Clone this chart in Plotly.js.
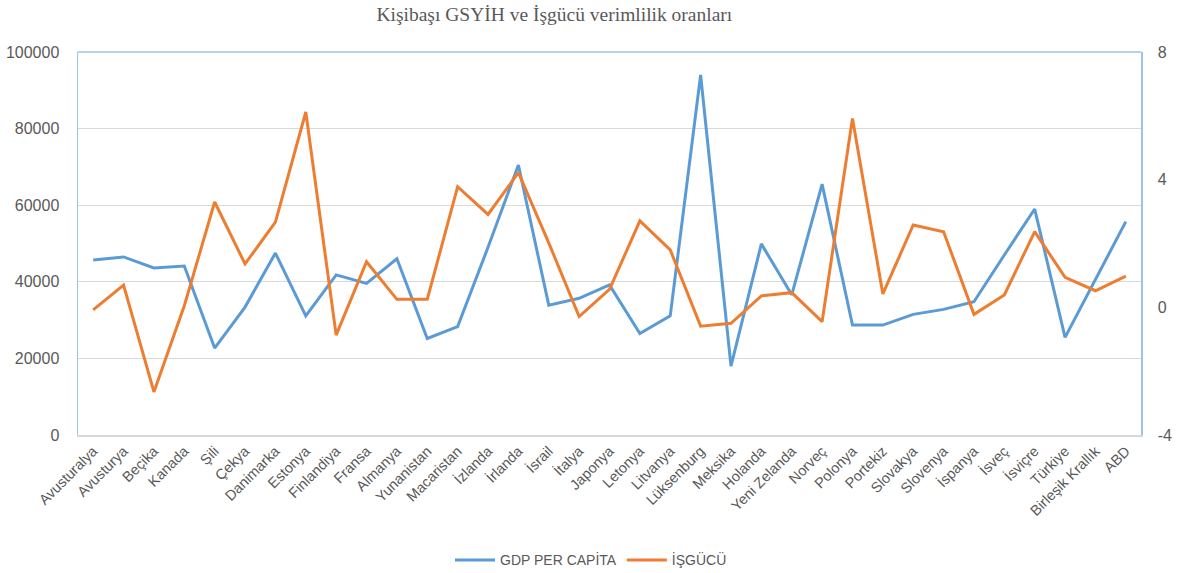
<!DOCTYPE html>
<html>
<head>
<meta charset="utf-8">
<script src="https://cdn.plot.ly/plotly-3.0.1.min.js"></script>
<style>html,body{margin:0;padding:0;background:#fff;}#chart{width:1182px;height:573px;}</style>
</head>
<body>
<div id="chart"></div>
<script>
const countries = ["Avusturalya","Avusturya","Beçika","Kanada","Şili","Çekya","Danimarka","Estonya","Finlandiya","Fransa","Almanya","Yunanistan","Macaristan","İzlanda","İrlanda","İsrail","İtalya","Japonya","Letonya","Litvanya","Lüksenburg","Meksika","Holanda","Yeni Zelanda","Norveç","Polonya","Portekiz","Slovakya","Slovenya","İspanya","İsveç","İsviçre","Türkiye","Birleşik Krallık","ABD"];
const gdpPerCapita = [45700,46500,43600,44100,22700,33400,47500,31100,41800,39600,46000,25200,28300,49000,70500,33900,35700,39200,26500,31100,94000,18000,49900,36600,65500,28700,28700,31500,32800,34800,47000,59000,25500,40500,55700];
const isgucu = [-0.08,0.70,-2.65,0.05,3.30,1.36,2.67,6.12,-0.87,1.43,0.25,0.25,3.78,2.91,4.22,2.02,-0.29,0.56,2.71,1.80,-0.59,-0.50,0.36,0.46,-0.45,5.92,0.42,2.58,2.37,-0.22,0.39,2.37,0.94,0.52,0.98];
const leftTicks = [0,20000,40000,60000,80000,100000];
const rightTicks = [-4,0,4,8];

const grey = '#595959';
const traces = [
  {x: countries, y: gdpPerCapita, name: 'GDP PER CAPİTA', type: 'scatter', mode: 'lines',
   line: {color: '#5B9BD5', width: 3}, yaxis: 'y'},
  {x: countries, y: isgucu, name: 'İŞGÜCÜ', type: 'scatter', mode: 'lines',
   line: {color: '#ED7D31', width: 3}, yaxis: 'y2'}
];
const layout = {
  width: 1182, height: 573,
  margin: {l: 78, r: 41, t: 52, b: 138},
  paper_bgcolor: '#fff', plot_bgcolor: '#fff',
  title: {text: 'Kişibaşı GSYİH ve İşgücü verimlilik oranları', xref: 'container', x: 0.469, xanchor: 'center', y: 0.975, yanchor: 'middle',
          font: {family: 'Liberation Serif, Times New Roman, serif', size: 19.5, color: grey}},
  font: {family: 'Liberation Sans, Arial, sans-serif', color: grey},
  xaxis: {type: 'category', range: [-0.5, countries.length - 0.5], tickangle: -45, automargin: false,
          tickfont: {size: 14.5, color: grey}, showgrid: false, showline: true, linecolor: '#d9d9d9', linewidth: 2,
          ticks: '', zeroline: false, fixedrange: true},
  yaxis: {range: [0, 100000], tickvals: leftTicks, ticktext: leftTicks.map(String), showgrid: true, gridcolor: '#d9d9d9', gridwidth: 1,
          showline: true, linecolor: '#9DC3E6', linewidth: 1.5, mirror: false, zeroline: false, ticks: '', automargin: false,
          tickfont: {size: 16, color: grey}, ticklabelstandoff: 14},
  yaxis2: {range: [-4, 8], tickvals: rightTicks, ticktext: rightTicks.map(String), overlaying: 'y', side: 'right', showgrid: false,
           showline: true, linecolor: '#9DC3E6', linewidth: 1.5, zeroline: false, ticks: '', automargin: false,
           tickfont: {size: 16, color: grey}, ticklabelstandoff: 12},
  shapes: [{type: 'line', xref: 'paper', yref: 'paper', x0: 0, x1: 1, y0: 1, y1: 1, line: {color: '#9DC3E6', width: 1.5}}],
  legend: {orientation: 'h', xref: 'container', yref: 'container', x: 0.5, xanchor: 'center', y: 0.022, yanchor: 'middle',
           font: {size: 14, color: grey}, itemwidth: 40},
  showlegend: true
};
Plotly.newPlot('chart', traces, layout, {displayModeBar: false, staticPlot: true});
</script>
</body>
</html>
